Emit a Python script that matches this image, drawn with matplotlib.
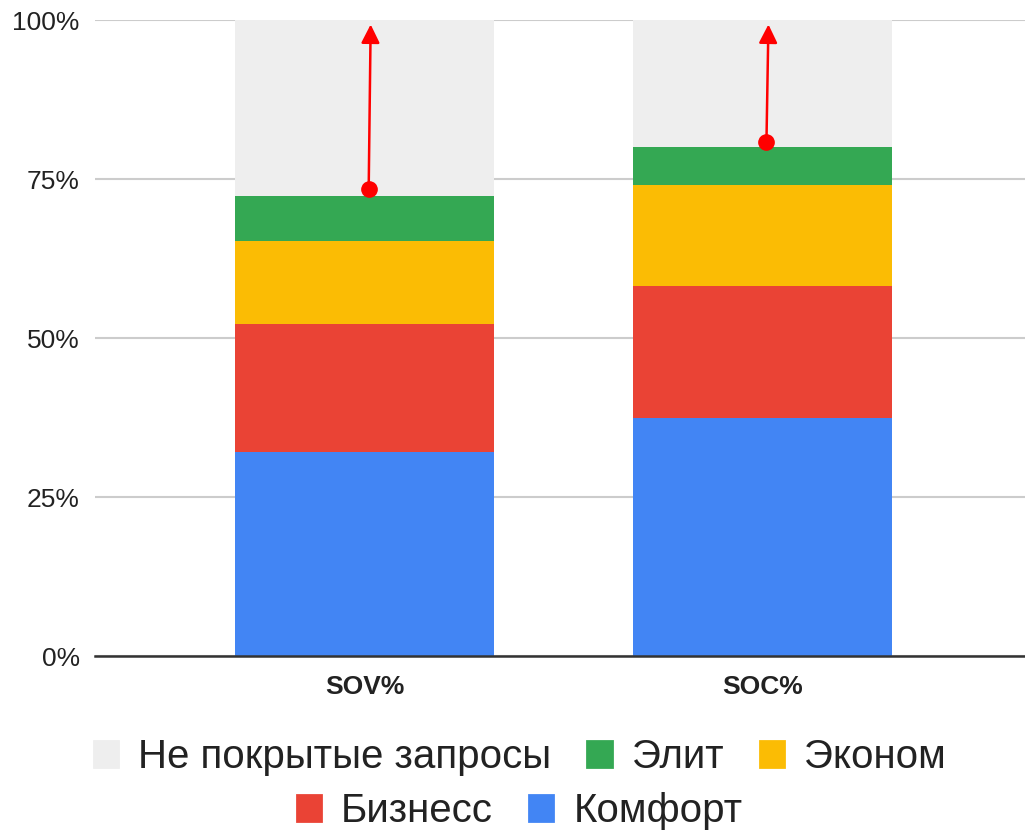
import matplotlib.pyplot as plt
from matplotlib.patches import Patch
import numpy as np

plt.rcParams['font.family'] = ['Liberation Sans', 'DejaVu Sans']

categories = ['SOV%', 'SOC%']
komfort = [32.1, 37.4]
biznes = [20.1, 20.8]
ekonom = [13.1, 15.9]
elit = [7.0, 5.9]
dot_values = [73.4, 80.8]
arrow_top = [99.3, 99.3]

series = [
    ('Комфорт', komfort, '#4285f4'),
    ('Бизнесс', biznes, '#ea4335'),
    ('Эконом', ekonom, '#fbbc04'),
    ('Элит', elit, '#34a853'),
]
uncovered_color = '#eeeeee'

fig = plt.figure(figsize=(10.25, 8.34), dpi=100)
ax = fig.add_axes([0.0927, 0.2134, 0.9073, 0.7626])

x = np.arange(len(categories))
width = 0.65

bottom = np.zeros(len(categories))
for name, vals, color in series:
    ax.bar(x, vals, width, bottom=bottom, color=color, zorder=2)
    bottom += np.array(vals)
ax.bar(x, 100 - bottom, width, bottom=bottom, color=uncovered_color, zorder=2)

# growth arrows from covered share up to full coverage
for xi, y0, y1 in zip(x, dot_values, arrow_top):
    ax.annotate('', xy=(xi + 0.015, y1), xytext=(xi + 0.01, y0),
                arrowprops=dict(arrowstyle='-|>', color='#ff0000', lw=1.8,
                                mutation_scale=28, shrinkA=0, shrinkB=0),
                zorder=4)
    ax.plot(xi + 0.01, y0, 'o', color='#ff0000', markersize=11, zorder=5)

ax.set_ylim(0, 100)
ax.set_xlim(-0.678, 1.66)
ax.set_yticks([0, 25, 50, 75, 100])
ax.set_yticklabels(['0%', '25%', '50%', '75%', '100%'], fontsize=19, color='#222222')
ax.set_xticks(x)
ax.set_xticklabels(categories, fontsize=19, fontweight='bold', color='#222222')
ax.tick_params(axis='both', length=0)
ax.tick_params(axis='y', pad=11)
ax.tick_params(axis='x', pad=14)
ax.grid(axis='y', color='#cccccc', lw=1.5, zorder=0)
for side in ['top', 'right', 'left']:
    ax.spines[side].set_visible(False)
ax.spines['bottom'].set_color('#333333')
ax.spines['bottom'].set_linewidth(1.8)
ax.spines['bottom'].set_zorder(3)


def swatch(color, label):
    return Patch(facecolor=color, edgecolor=color, linewidth=2,
                 joinstyle='round', label=label)


row1 = [swatch(uncovered_color, 'Не покрытые запросы'),
        swatch('#34a853', 'Элит'),
        swatch('#fbbc04', 'Эконом')]
row2 = [swatch('#ea4335', 'Бизнесс'),
        swatch('#4285f4', 'Комфорт')]

leg_kw = dict(frameon=False, fontsize=29, handlelength=0.6, handleheight=0.6,
              handletextpad=0.5, columnspacing=0.9, labelcolor='#222222')
fig.legend(handles=row1, ncol=3, loc='center', bbox_to_anchor=(0.507, 0.092), **leg_kw)
fig.legend(handles=row2, ncol=2, loc='center', bbox_to_anchor=(0.507, 0.027), **leg_kw)

fig.savefig('out.png', dpi=100)
